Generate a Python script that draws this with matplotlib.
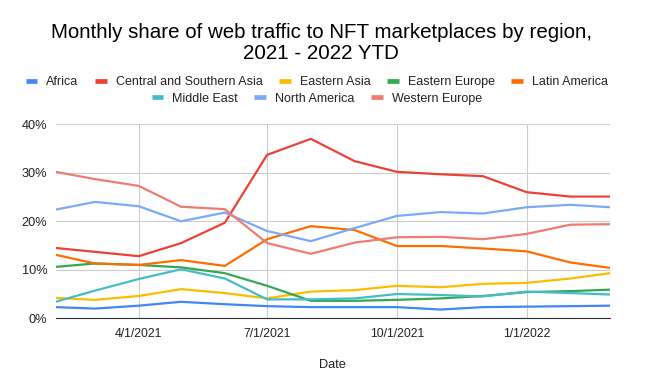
import matplotlib
matplotlib.use("Agg")
import matplotlib.dates as mdates
import matplotlib.pyplot as plt
import pandas as pd
from matplotlib.lines import Line2D
from matplotlib.ticker import PercentFormatter

plt.rcParams['font.family'] = ['Liberation Sans', 'DejaVu Sans']

# monthly points, Feb 2021 - Mar 2022
months = pd.date_range('2021-02-01', '2022-03-01', freq='MS')

africa = [2.3, 2.0, 2.6, 3.4, 2.9, 2.5, 2.3, 2.3, 2.3, 1.8, 2.3, 2.4, 2.5, 2.6]
central_southern_asia = [14.5, 13.7, 12.8, 15.5, 19.7, 33.7, 37.0, 32.4, 30.2, 29.7, 29.3, 26.0, 25.1, 25.1]
eastern_asia = [4.2, 3.8, 4.6, 6.0, 5.2, 4.1, 5.5, 5.8, 6.7, 6.4, 7.1, 7.3, 8.2, 9.3]
eastern_europe = [10.6, 11.3, 11.0, 10.5, 9.3, 6.7, 3.6, 3.6, 3.8, 4.1, 4.6, 5.4, 5.6, 5.9]
latin_america = [13.1, 11.3, 11.0, 12.0, 10.8, 16.3, 19.0, 18.2, 14.9, 14.9, 14.4, 13.8, 11.5, 10.4]
middle_east = [3.4, 5.7, 8.1, 10.1, 8.2, 3.9, 3.9, 4.1, 5.0, 4.8, 4.5, 5.5, 5.2, 4.9]
north_america = [22.4, 24.0, 23.1, 20.0, 21.8, 18.0, 15.9, 18.6, 21.1, 21.9, 21.6, 22.9, 23.4, 22.9]
western_europe = [30.2, 28.7, 27.3, 23.0, 22.5, 15.5, 13.3, 15.6, 16.7, 16.8, 16.3, 17.4, 19.3, 19.4]

series = [
    ('Africa', africa, '#4285F4'),
    ('Central and Southern Asia', central_southern_asia, '#EA4335'),
    ('Eastern Asia', eastern_asia, '#FBBC04'),
    ('Eastern Europe', eastern_europe, '#34A853'),
    ('Latin America', latin_america, '#FF6D01'),
    ('Middle East', middle_east, '#46BDC6'),
    ('North America', north_america, '#7BAAF7'),
    ('Western Europe', western_europe, '#F07B72'),
]

tick_dates = pd.to_datetime(['2021-04-01', '2021-07-01', '2021-10-01', '2022-01-01'])

fig = plt.figure(figsize=(6.53, 3.82), dpi=100)
ax = fig.add_axes([0.085, 0.1668, 0.849, 0.5078])

handles = []
for name, vals, color in series:
    ax.plot(months, vals, color=color, lw=1.6, solid_joinstyle='round')
    handles.append(Line2D([], [], color=color, lw=3.4, solid_capstyle='butt', label=name))

ax.set_xlim(months[0], months[-1])
ax.set_ylim(0, 40)
ax.set_yticks([0, 10, 20, 30, 40])
ax.yaxis.set_major_formatter(PercentFormatter(decimals=0))
ax.set_xticks(tick_dates)
ax.xaxis.set_major_formatter(mdates.DateFormatter('%-m/%-d/%Y'))

ax.grid(True, color='#cccccc', lw=0.8)
ax.set_axisbelow(True)
for s in ['top', 'right', 'left']:
    ax.spines[s].set_visible(False)
ax.spines['bottom'].set_color('#333333')
ax.tick_params(axis='x', length=0, labelsize=8.8, colors='#222222', pad=7)
ax.tick_params(axis='y', length=0, labelsize=9.2, colors='#222222', pad=6)
ax.set_xlabel('Date', fontsize=9.2, color='#222222', labelpad=14)

fig.text(0.492, 0.939, 'Monthly share of web traffic to NFT marketplaces by region,\n2021 - 2022 YTD',
         ha='center', va='top', fontsize=14.8, color='#000000', linespacing=1.08)

leg_kw = dict(frameon=False, fontsize=9, handlelength=0.95, handletextpad=0.72,
              columnspacing=1.3, labelcolor='#222222')
fig.legend(handles=handles[:5], ncol=5, loc='center', bbox_to_anchor=(0.485, 0.785), **leg_kw)
fig.legend(handles=handles[5:], ncol=3, loc='center', bbox_to_anchor=(0.485, 0.742), **leg_kw)

fig.savefig('out.png', dpi=100)
